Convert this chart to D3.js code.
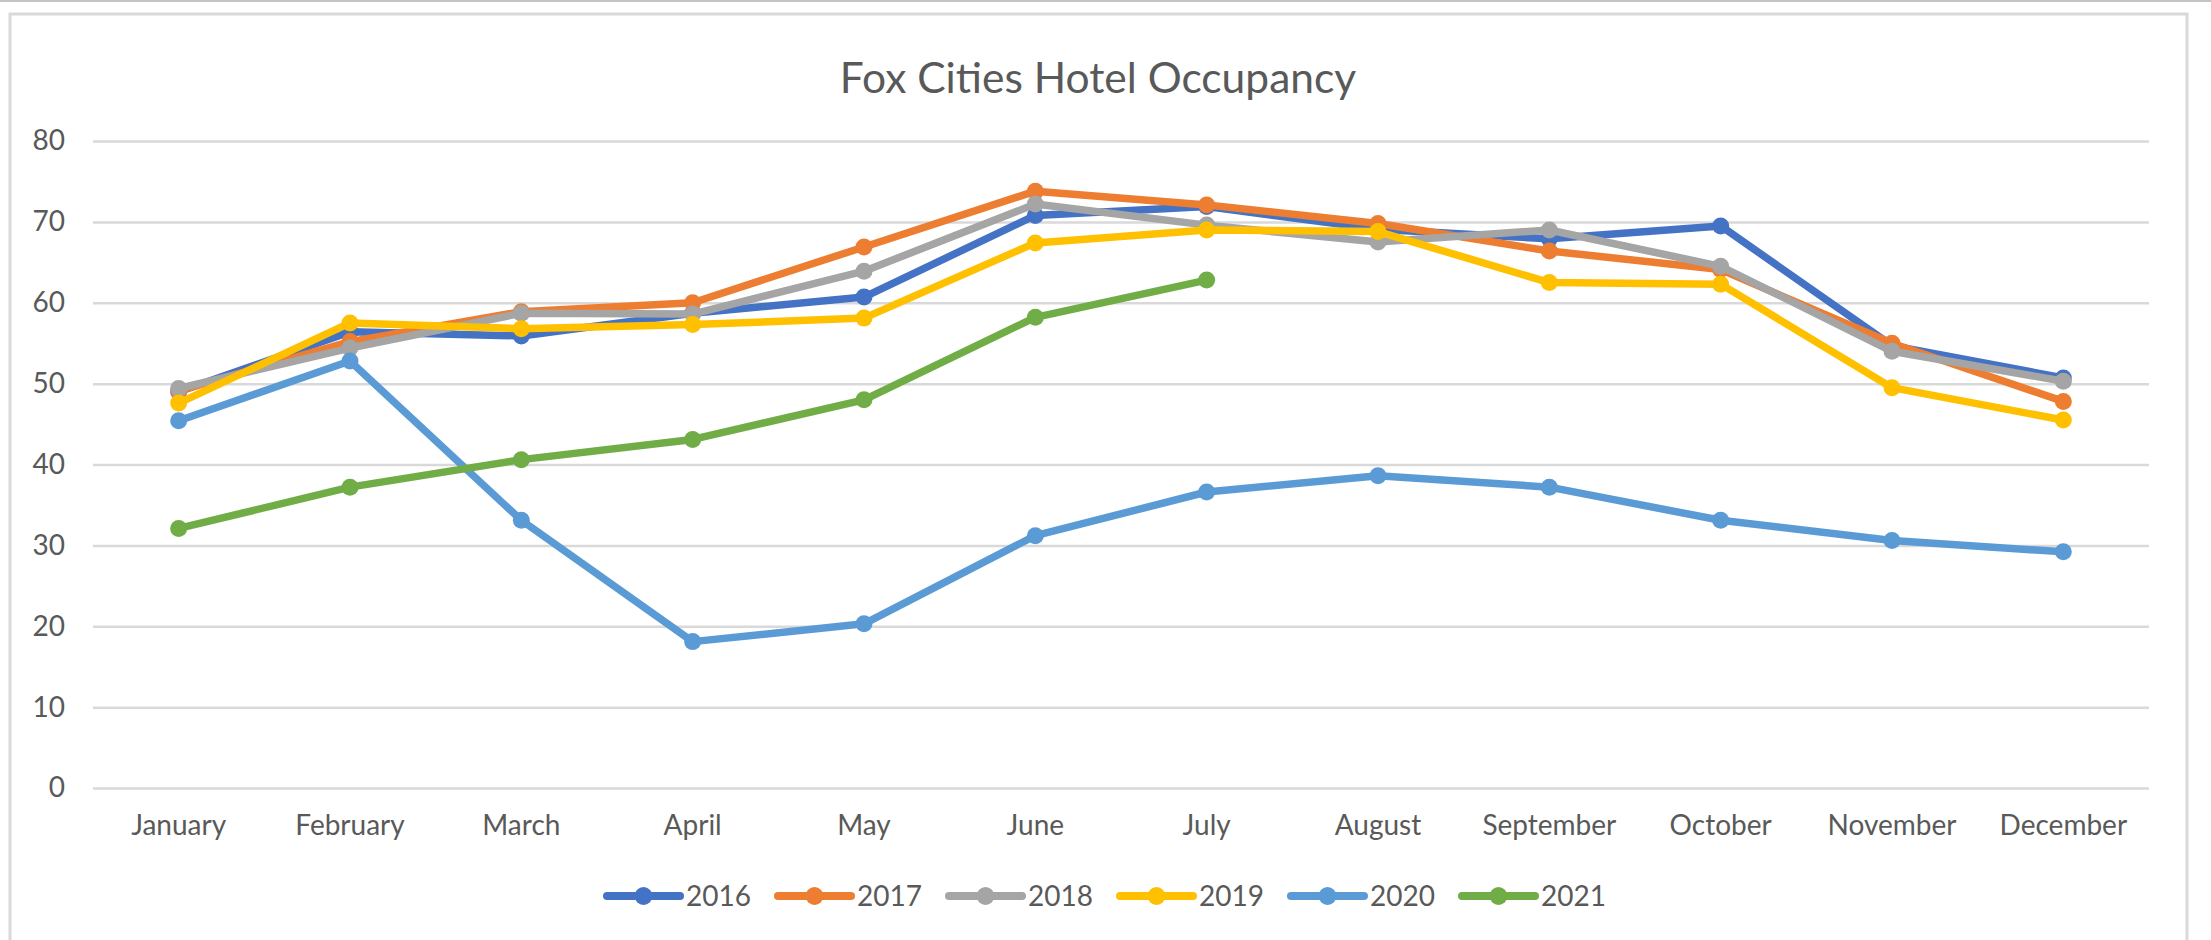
<!DOCTYPE html>
<html>
<head>
<meta charset="utf-8">
<script src="https://cdn.jsdelivr.net/npm/d3@7"></script>
<style>
	body { margin: 0; background: #ffffff; }
	text { font-family: Lato, "Open Sans", sans-serif; fill: #595959; }
</style>
</head>
<body>
<div id="chart"></div>
<script>
const months = ["January", "February", "March", "April", "May", "June",
	"July", "August", "September", "October", "November", "December"];
const years = ["2016", "2017", "2018", "2019", "2020", "2021"];
const colours = ["#4472C4", "#ED7D31", "#A5A5A5", "#FFC000", "#5B9BD5", "#70AD47"];
const y_ticks = [0, 10, 20, 30, 40, 50, 60, 70, 80];

const occ_2016 = [49.0, 56.4, 55.9, 58.7, 60.7, 70.8, 71.9, 69.1, 67.9, 69.5, 54.7, 50.7];
const occ_2017 = [49.1, 55.2, 58.9, 60.0, 66.9, 73.8, 72.1, 69.8, 66.4, 64.1, 55.0, 47.8];
const occ_2018 = [49.4, 54.4, 58.7, 58.6, 63.9, 72.2, 69.6, 67.5, 69.0, 64.5, 54.0, 50.3];
const occ_2019 = [47.6, 57.5, 56.8, 57.3, 58.1, 67.4, 69.0, 68.8, 62.5, 62.3, 49.5, 45.5];
const occ_2020 = [45.4, 52.8, 33.1, 18.1, 20.3, 31.2, 36.6, 38.6, 37.2, 33.1, 30.6, 29.2];
const occ_2021 = [32.1, 37.2, 40.6, 43.1, 48.0, 58.2, 62.8];

const series = [occ_2016, occ_2017, occ_2018, occ_2019, occ_2020, occ_2021];

const W = 2211, H = 940;
const plot = { left: 93, right: 2149, top: 141, bottom: 788 };

const svg = d3
	.select("#chart")
	.append("svg")
	.attr("width", W)
	.attr("height", H);

// outer frame like the excel screenshot
svg.append("line")
	.attr("x1", 0).attr("x2", W).attr("y1", 1).attr("y2", 1)
	.attr("stroke", "#c4c4c4").attr("stroke-width", 2);
svg.append("rect")
	.attr("x", 10).attr("y", 14)
	.attr("width", 2177).attr("height", 960)
	.attr("fill", "#ffffff")
	.attr("stroke", "#d9d9d9")
	.attr("stroke-width", 3);

svg.append("text")
	.attr("x", 1098)
	.attr("y", 93)
	.attr("text-anchor", "middle")
	.style("font-size", "42.5px")
	.text("Fox Cities Hotel Occupancy");

const x = d3.scaleBand().domain(months).range([plot.left, plot.right]);
const y = d3.scaleLinear().domain([0, 80]).range([plot.bottom, plot.top]);
const cx = (i) => x(months[i]) + x.bandwidth() / 2;

// y axis + gridlines
const yAxis = svg.append("g")
	.attr("transform", `translate(${plot.left},0)`)
	.call(d3.axisLeft(y).tickValues(y_ticks).tickSize(-(plot.right - plot.left)).tickPadding(28));
yAxis.select(".domain").remove();
yAxis.selectAll(".tick line").attr("stroke", "#d9d9d9").attr("stroke-width", 2.5);
yAxis.selectAll(".tick text")
	.style("font-size", "28px")
	.attr("fill", "#595959");

// x axis labels
const xAxis = svg.append("g")
	.attr("transform", `translate(0,${plot.bottom})`)
	.call(d3.axisBottom(x).tickSize(0));
xAxis.select(".domain").remove();
xAxis.selectAll(".tick text")
	.attr("y", 47)
	.attr("dy", 0)
	.style("font-size", "28px")
	.attr("fill", "#595959");

const line = d3.line()
	.x((d, i) => cx(i))
	.y((d) => y(d));

series.forEach((vals, k) => {
	const g = svg.append("g");
	g.append("path")
		.datum(vals)
		.attr("d", line)
		.attr("fill", "none")
		.attr("stroke", colours[k])
		.attr("stroke-width", 7.5)
		.attr("stroke-linejoin", "round")
		.attr("stroke-linecap", "round");
	g.selectAll("circle")
		.data(vals)
		.join("circle")
		.attr("cx", (d, i) => cx(i))
		.attr("cy", (d) => y(d))
		.attr("r", 8.5)
		.attr("fill", colours[k]);
});

// legend
const legend = svg.append("g");
years.forEach((yr, k) => {
	const lx = 607 + k * 171, ly = 896;
	legend.append("line")
		.attr("x1", lx).attr("x2", lx + 73)
		.attr("y1", ly).attr("y2", ly)
		.attr("stroke", colours[k])
		.attr("stroke-width", 8)
		.attr("stroke-linecap", "round");
	legend.append("circle")
		.attr("cx", lx + 36.5).attr("cy", ly)
		.attr("r", 9)
		.attr("fill", colours[k]);
	legend.append("text")
		.attr("x", lx + 79)
		.attr("y", ly)
		.attr("dy", "0.36em")
		.style("font-size", "28px")
		.text(yr);
});
</script>
</body>
</html>
